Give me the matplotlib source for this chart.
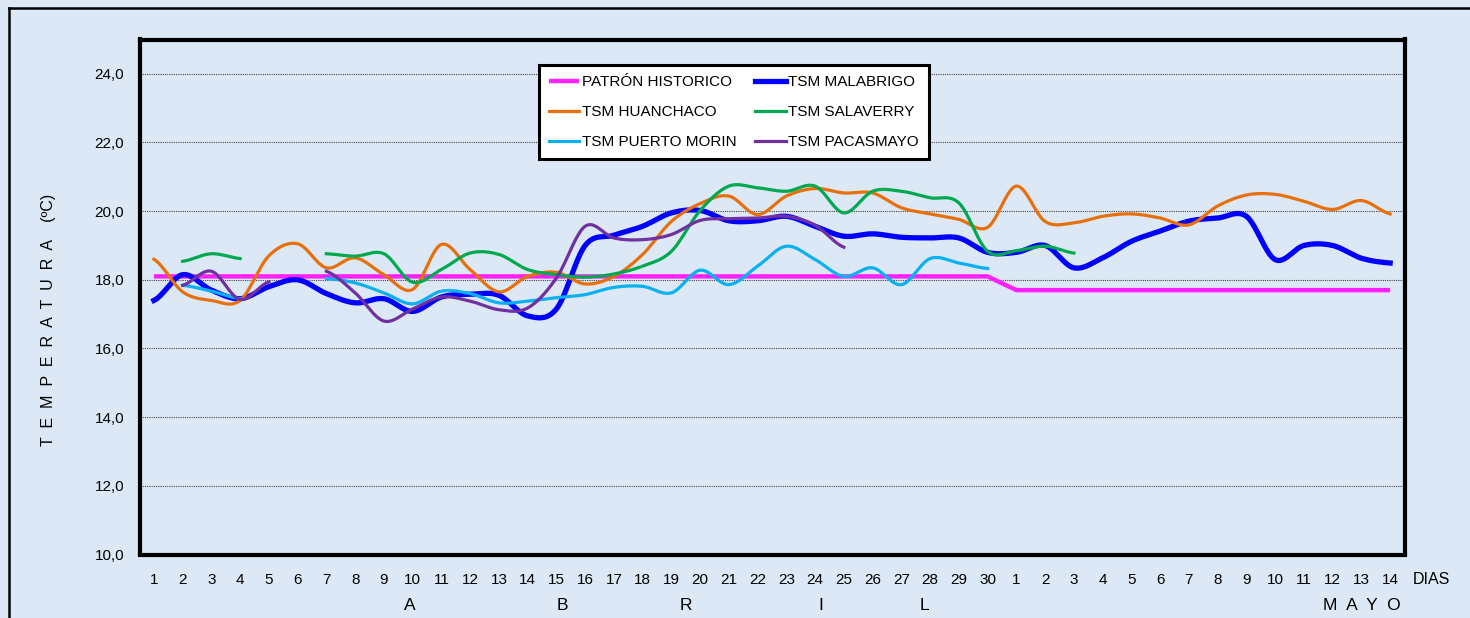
import numpy as np
import matplotlib
matplotlib.use("Agg")
import matplotlib.pyplot as plt
from matplotlib.lines import Line2D
import matplotlib.transforms as mtransforms

plt.rcParams['font.family'] = ['Liberation Sans', 'DejaVu Sans']

nan = np.nan
# ---------------- data ----------------
day_labels = [str(d) for d in range(1, 31)] + [str(d) for d in range(1, 15)]

patron = [18.1] * 30 + [17.7] * 14

malabrigo = [17.4, 18.15, 17.7, 17.45, 17.8, 18.0, 17.6, 17.33, 17.45, 17.08,
             17.5, 17.58, 17.55, 16.95, 17.15, 19.0, 19.3, 19.56, 19.95, 20.02,
             19.72, 19.72, 19.85, 19.56, 19.27, 19.34, 19.24, 19.22, 19.22, 18.8,
             18.8, 19.0, 18.35, 18.64, 19.12, 19.42, 19.71, 19.8, 19.85, 18.59,
             19.0, 19.0, 18.63, 18.49]

huanchaco = [18.6, 17.65, 17.4, 17.4, 18.7, 19.05, 18.35, 18.64, 18.15, 17.72,
             19.03, 18.3, 17.65, 18.1, 18.22, 17.88, 18.1, 18.74, 19.7, 20.22,
             20.44, 19.9, 20.44, 20.66, 20.53, 20.53, 20.1, 19.92, 19.76, 19.53,
             20.73, 19.7, 19.66, 19.85, 19.92, 19.8, 19.6, 20.15, 20.47, 20.49,
             20.29, 20.05, 20.31, 19.92]

salaverry = [nan, 18.54, 18.76, 18.62, nan, nan, 18.76, 18.69, 18.76, 17.93,
             18.3, 18.78, 18.74, 18.3, 18.15, 18.08, 18.17, 18.4, 18.83, 20.02,
             20.73, 20.68, 20.58, 20.73, 19.95, 20.58, 20.58, 20.39, 20.24, 18.83,
             18.85, 18.98, 18.78] + [nan] * 11

puerto_morin = [nan, 17.84, 17.67, 17.45, nan, nan, 18.04, 17.91, 17.62, 17.3,
                17.67, 17.6, 17.33, 17.38, 17.48, 17.57, 17.78, 17.81, 17.62, 18.28,
                17.86, 18.4, 18.98, 18.59, 18.1, 18.35, 17.86, 18.62, 18.49, 18.33] + [nan] * 14

pacasmayo = [nan, 17.84, 18.25, 17.43, 17.94, nan, 18.25, 17.62, 16.8, 17.15,
             17.5, 17.38, 17.13, 17.18, 18.05, 19.56, 19.22, 19.17, 19.32, 19.73,
             19.78, 19.8, 19.85, 19.59, 18.95] + [nan] * 19

series_names = ["PATRÓN HISTORICO", "TSM MALABRIGO", "TSM HUANCHACO",
                "TSM SALAVERRY", "TSM PUERTO MORIN", "TSM PACASMAYO"]
y_ticks = [10, 12, 14, 16, 18, 20, 22, 24]
y_tick_labels = ["10,0", "12,0", "14,0", "16,0", "18,0", "20,0", "22,0", "24,0"]
month_labels = ["A", "B", "R", "I", "L", "M  A  Y  O"]
month_pos = [9.9, 15.2, 19.5, 24.2, 27.8, 43.0]

# ---------------- helpers ----------------
def smooth_runs(x, y, n=24):
    """Catmull-Rom rendering of each non-NaN run (like Excel smoothed lines)."""
    x = np.asarray(x, float)
    y = np.asarray(y, float)
    X, Y = [], []
    ok = ~np.isnan(y)
    i = 0
    N = len(y)
    while i < N:
        if not ok[i]:
            i += 1
            continue
        j = i
        while j < N and ok[j]:
            j += 1
        xs, ys = x[i:j], y[i:j]
        if len(xs) == 1:
            X += [xs[0]]; Y += [ys[0]]
        else:
            for k in range(len(xs) - 1):
                p0 = ys[k - 1] if k > 0 else ys[k]
                p3 = ys[k + 2] if k + 2 < len(ys) else ys[k + 1]
                m1 = (ys[k + 1] - p0) / 2.0
                m2 = (p3 - ys[k]) / 2.0
                t = np.linspace(0, 1, n, endpoint=(k == len(xs) - 2))
                h00 = 2 * t**3 - 3 * t**2 + 1
                h10 = t**3 - 2 * t**2 + t
                h01 = -2 * t**3 + 3 * t**2
                h11 = t**3 - t**2
                yy = h00 * ys[k] + h10 * m1 + h01 * ys[k + 1] + h11 * m2
                xx = xs[k] + t * (xs[k + 1] - xs[k])
                X += list(xx); Y += list(yy)
        X.append(np.nan); Y.append(np.nan)
        i = j
    return np.array(X), np.array(Y)

# ---------------- figure ----------------
W, H = 1470, 618
bg = '#dce8f5'
fig = plt.figure(figsize=(W / 100, H / 100), dpi=100, facecolor=bg)

# outer chart frame (partly cropped)
fig.add_artist(Line2D([8.5 / W, 8.5 / W], [0, 1 - 8 / H], color='black', lw=1.8,
                      transform=fig.transFigure))
fig.add_artist(Line2D([8.5 / W, 1], [1 - 8 / H, 1 - 8 / H], color='black', lw=1.8,
                      transform=fig.transFigure))

ax = fig.add_axes([139.5 / W, (H - 554.5) / H, 1265 / W, 515 / H])
ax.set_facecolor(bg)

x = np.arange(1, 45)

for yv in y_ticks[1:]:
    ax.axhline(yv, color='#444444', lw=0.8, ls=(0, (1, 1)), zorder=1)

l_pat, = ax.plot(x, patron, color='#ff22ff', lw=3.2, zorder=3, solid_capstyle='butt')
xs, ys = smooth_runs(x, malabrigo)
l_mal, = ax.plot(xs, ys, color='#0000ff', lw=3.8, zorder=4)
xs, ys = smooth_runs(x, huanchaco)
l_hua, = ax.plot(xs, ys, color='#e8700c', lw=2.3, zorder=5)
xs, ys = smooth_runs(x, salaverry)
l_sal, = ax.plot(xs, ys, color='#00a84f', lw=2.3, zorder=6)
xs, ys = smooth_runs(x, puerto_morin)
l_mor, = ax.plot(xs, ys, color='#0ab0f0', lw=2.3, zorder=7)
xs, ys = smooth_runs(x, pacasmayo)
l_pac, = ax.plot(xs, ys, color='#7030a0', lw=2.3, zorder=8)

ax.set_xlim(0.5, 44.5)
ax.set_ylim(10, 25)
ax.set_yticks(y_ticks)
ax.set_yticklabels(y_tick_labels)
ax.set_xticks(x)
ax.set_xticklabels(day_labels)
ax.tick_params(axis='y', length=0, pad=11, labelsize=11)
ax.tick_params(axis='x', length=0, pad=13, labelsize=11)
for s in ax.spines.values():
    s.set_linewidth(3.0)
    s.set_color('black')
    s.set_zorder(10)

# legend (Excel fills row-wise: reorder for matplotlib's column-major fill)
handles = [l_pat, l_hua, l_mor, l_mal, l_sal, l_pac]
labels = [series_names[0], series_names[2], series_names[4],
          series_names[1], series_names[3], series_names[5]]
leg = ax.legend(handles, labels, ncol=2, loc='upper left',
                bbox_to_anchor=(0.3158, 0.9505), borderaxespad=0,
                fontsize=11, frameon=True, fancybox=False, framealpha=1,
                facecolor='white', edgecolor='black', handlelength=2.0,
                handletextpad=0.15, columnspacing=1.25, labelspacing=1.05,
                borderpad=0.65)
leg.get_frame().set_linewidth(2.2)
leg.set_zorder(20)

# axis label and extra texts
fig.text(48 / W, 1 - 320 / H, "T  E  M  P  E  R  A  T  U  R  A    (ºC)", rotation=90,
         ha='center', va='center', fontsize=11.5)
trans = mtransforms.blended_transform_factory(ax.transData, fig.transFigure)
ax.text(44.8, 1 - 580 / H, "DIAS", transform=trans, ha='left', va='center',
        fontsize=11.5, clip_on=False)
for lab, pos in zip(month_labels, month_pos):
    ax.text(pos, 1 - 605 / H, lab, transform=trans, ha='center', va='center',
            fontsize=12.5, clip_on=False)

fig.savefig('out.png', dpi=100, facecolor=bg)
